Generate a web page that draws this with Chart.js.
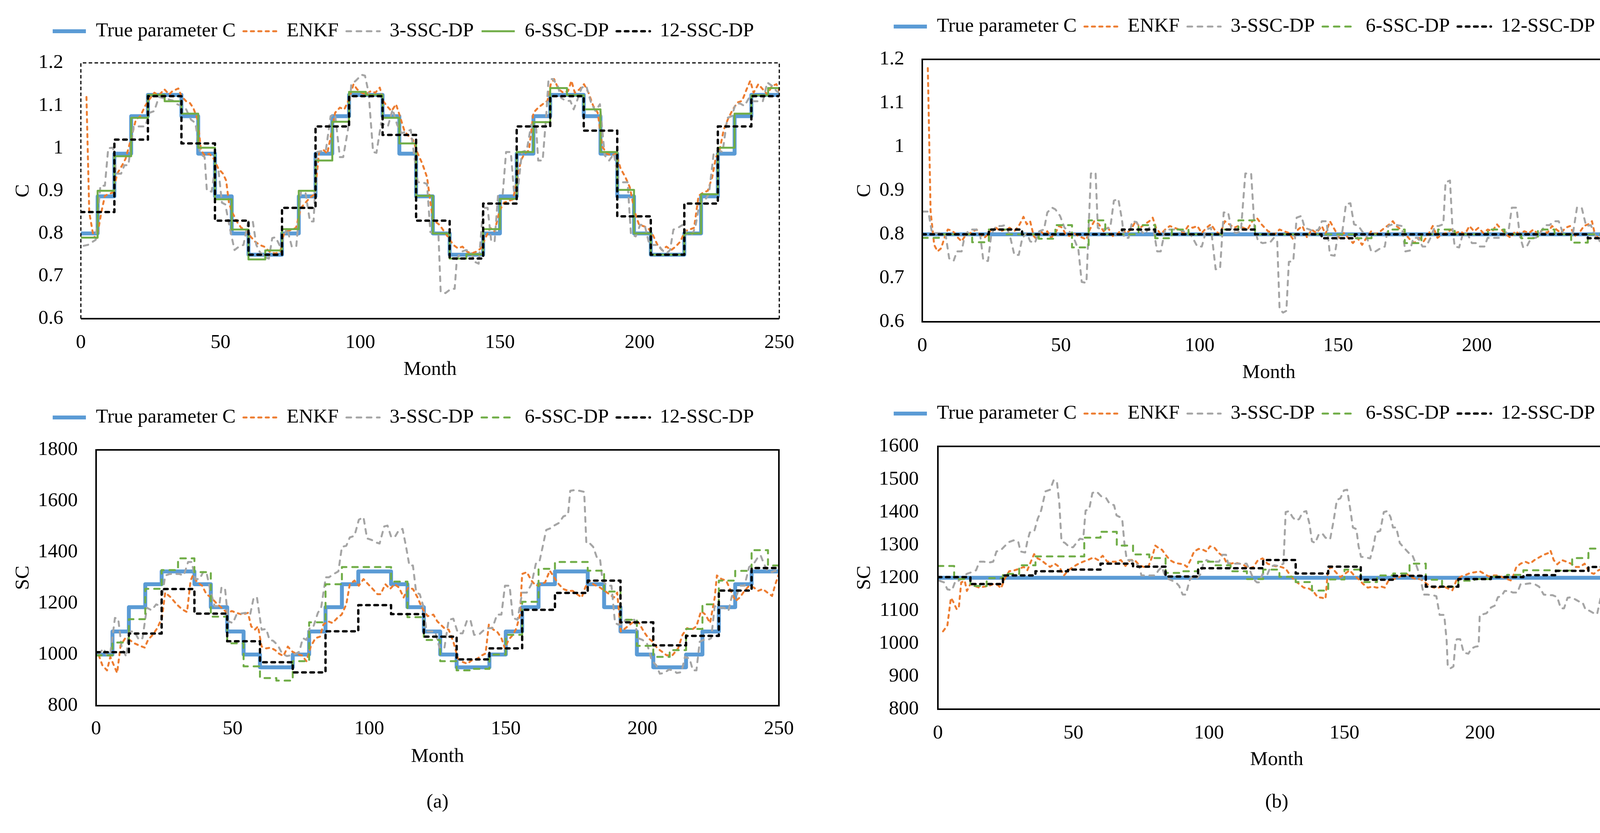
<!DOCTYPE html>
<html><head><meta charset="utf-8">
<script src="https://cdn.jsdelivr.net/npm/chart.js@4.4.1/dist/chart.umd.min.js"></script>
<style>
html,body{margin:0;padding:0;background:#fff;overflow:hidden;width:4205px;height:2133px;}
canvas{position:absolute;}
</style></head><body>
<canvas id="cTL"></canvas><canvas id="cTR"></canvas><canvas id="cBL"></canvas><canvas id="cBR"></canvas>
<script>
// ---------------- DATA ----------------
const seriesNames = ['True parameter C','ENKF','3-SSC-DP','6-SSC-DP','12-SSC-DP'];

// (a) top: parameter C, 6-month blocks for true & 6-SSC, 12-month blocks for 12-SSC
const trueC_a = [0.8,0.887,0.987,1.075,1.125,1.125,1.075,0.987,0.887,0.8,0.75,0.75,
  0.8,0.887,0.987,1.075,1.125,1.125,1.075,0.987,0.887,0.8,0.75,0.75,
  0.8,0.887,0.987,1.075,1.125,1.125,1.075,0.987,0.887,0.8,0.75,0.75,
  0.8,0.887,0.987,1.075,1.125,1.125];
const sixC_a = [0.79,0.9,0.981,1.071,1.125,1.11,1.081,1.001,0.88,0.809,0.739,0.76,
  0.81,0.9,0.971,1.062,1.132,1.125,1.071,1.011,0.888,0.8,0.741,0.751,
  0.81,0.881,0.991,1.061,1.141,1.124,1.091,0.991,0.902,0.8,0.75,0.75,
  0.8,0.892,1.001,1.081,1.124,1.141];
const twelveC_a = [0.85,1.02,1.122,1.011,0.83,0.75,0.86,1.051,1.122,1.031,0.83,0.741,0.87,1.051,1.122,1.041,0.84,0.75,0.87,1.051,1.122];
const enkfC_a = [[2,1.12],[3,0.85],[4.5,0.793],[5.7,0.789],[7.4,0.852],[8.6,0.888],[9.8,0.892],[11.5,0.896],[13,0.94],[14.8,0.96],[16,0.975],[18,1.023],[19.7,1.067],[21.3,1.075],[23,1.099],[24.6,1.115],[26.3,1.13],[27.9,1.124],[29.9,1.138],[31.6,1.126],[32.8,1.134],[34.9,1.14],[36,1.122],[37.7,1.11],[39,1.106],[40.2,1.095],[41.8,1.067],[43,0.995],[44.3,0.983],[46,0.987],[47.6,0.975],[49.2,0.952],[50.9,0.94],[52,0.924],[53,0.872],[54,0.852],[55.8,0.828],[57.4,0.813],[59,0.809],[60.7,0.793],[62.3,0.781],[64,0.773],[65.6,0.769],[66.9,0.761],[68,0.755],[69.7,0.753],[71.4,0.757],[72.6,0.797],[73.8,0.805],[75.5,0.809],[77,0.813],[78.8,0.86],[80.4,0.872],[82,0.884],[83.7,0.892],[85.3,0.991],[87,0.995],[88.2,0.987],[89.8,1.039],[91,1.083],[92.7,1.095],[94.3,1.091],[96,1.115],[97.6,1.15],[98.9,1.138],[100.5,1.13],[102,1.126],[103.8,1.134],[105.4,1.13],[107,1.142],[108.3,1.11],[109.5,1.099],[111.2,1.087],[112.8,1.103],[114,1.079],[115.7,1.043],[116.9,1.031],[118.9,1.019],[120.6,0.987],[122.2,0.964],[123.9,0.932],[126,0.832],[128.4,0.82],[130,0.805],[131.7,0.789],[133.3,0.773],[135,0.765],[136.6,0.769],[138.3,0.757],[139.9,0.753],[141.5,0.757],[143.2,0.765],[144.8,0.789],[146.5,0.813],[148.1,0.805],[149.8,0.852],[151.4,0.872],[153,0.876],[154.7,0.88],[156.3,0.932],[157.5,0.971],[158.8,0.987],[160.4,0.995],[162,1.083],[163.7,1.095],[165.3,1.103],[167,1.111],[168.2,1.15],[169.4,1.162],[171,1.138],[172.7,1.13],[174.4,1.134],[175.6,1.158],[176.8,1.13],[178.5,1.138],[180.1,1.15],[181.7,1.13],[183.4,1.099],[185,1.083],[186.7,1.003],[188.3,0.987],[190,0.983],[191.6,0.987],[193.2,0.952],[194.9,0.932],[196.5,0.908],[198.2,0.852],[199.8,0.82],[201.4,0.817],[203,0.813],[204.7,0.797],[206.4,0.773],[208,0.761],[209.6,0.769],[211.3,0.761],[212.9,0.769],[214.6,0.781],[216.2,0.805],[217.8,0.809],[219.5,0.813],[221.1,0.888],[222.8,0.896],[224.4,0.9],[226,0.932],[227.3,0.979],[228.5,0.991],[230.1,1.043],[231.8,1.071],[233.4,1.091],[235,1.107],[236.7,1.111],[238.3,1.138],[239.6,1.158],[240.8,1.13],[242.5,1.15],[244.1,1.138],[245.7,1.126],[247.4,1.146],[249,1.15],[250,1.134]];
const threeC_a = [[1,0.771],[2.5,0.773],[5.3,0.785],[7,0.912],[8.6,0.912],[9.8,1.0],[11.5,1.001],[12.7,0.94],[14.4,0.94],[15.6,0.96],[17,0.96],[18.9,1.051],[23,1.051],[24.6,1.083],[26.3,1.087],[27.9,1.12],[32.8,1.112],[34.5,1.103],[36,1.099],[37.7,1.091],[39.4,1.067],[41,1.059],[42.7,0.987],[44.3,0.979],[45.1,0.9],[46.8,0.898],[48,0.952],[49.2,0.952],[50.5,0.872],[51.7,0.868],[53.3,0.813],[55,0.761],[56.6,0.769],[58.2,0.773],[59.9,0.828],[61.5,0.83],[62.8,0.773],[64,0.757],[65.6,0.745],[67.3,0.741],[68.5,0.789],[69.7,0.791],[71.4,0.769],[73.8,0.813],[75.5,0.769],[77.1,0.769],[78.8,0.9],[80.4,0.896],[82,0.828],[83.3,0.828],[84.5,0.991],[86.1,0.993],[87.7,0.995],[89.4,1.075],[91,1.079],[92.7,0.979],[93.9,0.979],[95.6,1.043],[96.8,1.15],[98.4,1.158],[100.5,1.172],[101.7,1.17],[103,1.13],[104.6,0.991],[105.8,0.989],[107.5,1.059],[108.7,1.055],[109.9,1.051],[111.6,1.091],[113.2,1.055],[114.8,1.035],[116.5,1.039],[118.1,1.043],[119.4,0.979],[120.6,0.92],[122.2,0.92],[123.9,0.916],[125.1,0.803],[126.8,0.8],[128,0.797],[128.8,0.662],[130.5,0.66],[132.5,0.67],[133.8,0.67],[134.6,0.741],[136.2,0.757],[137.9,0.761],[139.5,0.757],[141.1,0.733],[142.4,0.729],[144,0.86],[145.6,0.86],[146.9,0.781],[148.1,0.781],[149.3,0.888],[151,0.892],[152.2,0.991],[153.9,0.991],[155.1,0.892],[156.3,0.896],[157.9,0.991],[159.6,0.995],[161.2,1.055],[162.9,1.055],[163.7,0.971],[165.3,0.971],[166.6,1.079],[167.4,1.162],[169,1.162],[170.7,1.146],[171.9,1.118],[173.5,1.111],[175.2,1.111],[176.4,1.091],[177.6,1.111],[179.3,1.142],[180.9,1.146],[182.6,1.107],[184.2,1.087],[185.8,1.103],[187.5,0.983],[189.1,0.971],[190.8,0.987],[192.4,0.924],[194,0.92],[195.7,0.92],[196.9,0.797],[198.6,0.793],[200.2,0.82],[201.8,0.82],[203.5,0.773],[205.1,0.773],[206.8,0.773],[208,0.761],[209.6,0.753],[210.9,0.761],[212.1,0.809],[213.7,0.813],[215.4,0.82],[217,0.797],[218.7,0.797],[219.9,0.813],[221.5,0.872],[223.2,0.876],[224.8,0.892],[226.5,0.987],[228.1,0.995],[229.7,0.991],[231.4,1.071],[233,1.075],[234.3,1.103],[235.9,1.105],[237.5,1.099],[239.2,1.118],[240.8,1.11],[242.5,1.11],[244.1,1.11],[245.7,1.154],[247.4,1.146],[249,1.134],[250,1.13]];

// (b) top: parameter C constant
const trueC_b = [0.8];
const sixC_b = [0.792,0.8,0.8,0.782,0.811,0.8,0.8,0.79,0.821,0.77,0.832,0.8,
  0.8,0.821,0.791,0.811,0.8,0.8,0.811,0.832,0.8,0.8,0.8,0.8,
  0.8,0.8,0.791,0.8,0.811,0.78,0.8,0.811,0.8,0.8,0.811,0.8,
  0.791,0.811,0.8,0.781,0.8,0.8];
const twelveC_b = [0.8,0.8,0.811,0.8,0.8,0.8,0.811,0.8,0.8,0.811,0.8,0.8,0.791,0.8,0.8,0.8,0.8,0.8,0.8,0.8,0.791];
const enkfC_b = [[2,1.18],[3,0.853],[4.3,0.776],[5.5,0.761],[6.8,0.768],[8,0.792],[9.2,0.811],[10.5,0.809],[11.7,0.803],[12.9,0.792],[14.2,0.784],[15.4,0.796],[16.7,0.8],[18.3,0.807],[19.6,0.811],[20.8,0.8],[22.4,0.792],[23.7,0.8],[24.9,0.811],[26.6,0.815],[28.2,0.807],[29.9,0.811],[31.5,0.815],[33.2,0.807],[34.8,0.819],[36.5,0.84],[37.7,0.823],[38.9,0.83],[40.2,0.796],[41.4,0.788],[42.7,0.807],[43.9,0.8],[45.1,0.807],[46.4,0.792],[48,0.803],[49.3,0.819],[50.5,0.815],[51.7,0.8],[53,0.796],[54.6,0.803],[56.3,0.796],[57.9,0.792],[59.2,0.788],[60.4,0.811],[62,0.83],[63.7,0.823],[65.4,0.807],[67,0.815],[68.7,0.796],[70.3,0.8],[71.9,0.811],[73.6,0.803],[75.3,0.811],[76.9,0.83],[78.6,0.815],[80.2,0.823],[81.9,0.83],[83.1,0.838],[84.3,0.815],[86,0.8],[87.6,0.811],[89.3,0.819],[90.9,0.815],[92.6,0.811],[94.2,0.803],[95.9,0.819],[97.5,0.815],[99.2,0.819],[100.8,0.803],[102.5,0.815],[104.1,0.823],[105.8,0.807],[107.4,0.8],[109.1,0.83],[110.7,0.823],[112.4,0.815],[114,0.819],[115.7,0.815],[117.3,0.811],[119,0.83],[120.6,0.838],[122.3,0.823],[124.7,0.807],[127.2,0.8],[128.8,0.811],[130.5,0.807],[132.2,0.803],[133.8,0.788],[135.5,0.811],[137.1,0.819],[138.8,0.792],[140.4,0.811],[142.1,0.803],[144.1,0.819],[145.4,0.8],[147,0.83],[148.7,0.811],[150.3,0.792],[152,0.803],[153.6,0.792],[155.3,0.78],[156.9,0.792],[158.6,0.776],[160.2,0.792],[161.9,0.807],[163.5,0.8],[165.2,0.807],[166.8,0.815],[168.5,0.823],[169.7,0.83],[170.9,0.819],[172.6,0.811],[174.2,0.8],[175.9,0.788],[177.5,0.78],[179.2,0.792],[180.8,0.784],[182.5,0.8],[184.1,0.819],[185.8,0.792],[187.4,0.8],[189.1,0.803],[190.7,0.811],[192.4,0.803],[194,0.807],[195.7,0.8],[197.3,0.819],[199,0.807],[200.6,0.815],[202.3,0.803],[203.9,0.811],[205.6,0.807],[207.2,0.823],[208.9,0.811],[210.5,0.8],[212.2,0.792],[213.8,0.807],[215.5,0.8],[217.1,0.807],[218.8,0.803],[220.4,0.811],[222.1,0.8],[223.7,0.811],[225.4,0.803],[227.1,0.819],[228.7,0.811],[230.3,0.803],[232,0.815],[233.6,0.819],[235.3,0.796],[236.9,0.803],[238.6,0.819],[240.2,0.823],[241.5,0.83],[242.7,0.796],[244.4,0.792],[246,0.819],[247.7,0.8],[249.3,0.807]];
const threeC_b = [[0.2,0.852],[2.2,0.852],[3.5,0.803],[6.8,0.803],[8.4,0.8],[9.7,0.745],[11.3,0.739],[12.5,0.761],[14.2,0.761],[15.4,0.8],[17.5,0.811],[19.6,0.811],[20.8,0.803],[22,0.741],[23.7,0.739],[24.9,0.8],[26.6,0.819],[28.6,0.819],[29.9,0.821],[31.5,0.8],[33.2,0.753],[34.8,0.753],[36.1,0.792],[37.7,0.803],[38.9,0.784],[40.6,0.78],[42.2,0.807],[43.9,0.811],[45.1,0.85],[46.8,0.861],[48,0.857],[49.7,0.842],[51.3,0.815],[53,0.807],[54.6,0.792],[56.3,0.765],[57.5,0.691],[59.2,0.689],[60,0.815],[60.8,0.939],[62.5,0.941],[63.3,0.815],[64.5,0.811],[67.8,0.815],[69.1,0.877],[70.7,0.881],[72,0.834],[72.8,0.792],[74.4,0.792],[75.7,0.83],[77.3,0.828],[79,0.807],[80.2,0.8],[81.9,0.815],[83.5,0.807],[84.7,0.761],[86,0.761],[87.6,0.811],[92.6,0.811],[94.2,0.807],[95.9,0.807],[97.5,0.792],[99.2,0.772],[100.8,0.772],[102.5,0.811],[104.1,0.815],[105.8,0.72],[107.4,0.722],[108.7,0.85],[110.3,0.85],[111.6,0.807],[113.2,0.803],[114.9,0.807],[116.5,0.939],[118.6,0.939],[119.8,0.815],[121.1,0.784],[122.7,0.78],[125.5,0.782],[126.8,0.792],[128,0.784],[128.85,0.629],[130.1,0.621],[131.3,0.625],[132.2,0.737],[133.8,0.739],[135,0.838],[136.7,0.842],[137.9,0.815],[139.6,0.811],[141.2,0.807],[142.9,0.811],[144.1,0.83],[145.8,0.83],[147,0.753],[148.7,0.751],[149.9,0.8],[151.5,0.807],[152.8,0.869],[154.4,0.871],[155.7,0.823],[157.3,0.819],[158.6,0.807],[160.2,0.796],[161.9,0.761],[163.5,0.761],[165.2,0.768],[166.8,0.772],[168,0.819],[169.7,0.823],[171.3,0.821],[172.9,0.819],[174.2,0.761],[175.9,0.763],[177.1,0.792],[178.8,0.792],[180.4,0.772],[181.7,0.772],[183.3,0.792],[184.9,0.819],[186.2,0.819],[187.9,0.823],[188.7,0.919],[190.3,0.923],[191.2,0.815],[192,0.772],[193.6,0.77],[194.9,0.8],[196.5,0.803],[198.2,0.78],[199.8,0.78],[201.1,0.772],[202.7,0.772],[203.9,0.792],[208.9,0.792],[210.1,0.803],[211.4,0.807],[212.6,0.861],[214.3,0.861],[215.5,0.796],[216.7,0.77],[218,0.772],[219.6,0.792],[221.3,0.792],[222.9,0.803],[224.6,0.821],[226.2,0.821],[227.9,0.83],[229.5,0.83],[231.2,0.8],[232.8,0.8],[234.5,0.796],[236.1,0.861],[237.8,0.861],[239.4,0.819],[241.1,0.821],[242.7,0.796],[244.4,0.784],[246,0.78],[247.3,0.78],[248.5,0.83],[250,0.834]];

// (a) bottom: SC
const trueSC_a = [1000,1090,1185,1275,1325,1325,1275,1185,1090,1000,950,950,
  1000,1090,1185,1275,1325,1325,1275,1185,1090,1000,950,950,
  1000,1090,1185,1275,1325,1325,1275,1185,1090,1000,950,950,
  1000,1090,1185,1275,1325,1325];
const sixSC_a = [997,1047,1138,1257,1330,1376,1322,1148,1044,954,908,898,
  974,1126,1275,1342,1342,1342,1285,1146,1057,974,938,944,
  1000,1077,1206,1335,1362,1362,1328,1246,1136,1034,991,1017,
  1100,1196,1289,1327,1408,1348];
const twelveSC_a = [1009,1082,1256,1160,1052,970,930,1091,1193,1158,1070,981,1024,1175,1241,1289,1126,1036,1073,1250,1338];
const enkfSC_a = [[1,997],[2.3,958],[4,938],[5.2,991],[6.5,958],[7.7,928],[9,1037],[10.7,1064],[12.3,1057],[14,1044],[16.1,1034],[17.8,1027],[19,1057],[20.7,1077],[22.4,1103],[24.1,1143],[25.3,1242],[27.4,1223],[29.5,1196],[31.6,1176],[33.3,1166],[34.6,1289],[35.4,1309],[37.1,1282],[38.8,1269],[40.4,1236],[42.1,1223],[44.2,1199],[45.9,1183],[48,1163],[49.7,1170],[51.4,1163],[53.5,1156],[55.6,1163],[56.8,1110],[58.1,1097],[59.3,1110],[60.6,1031],[62.3,1024],[63.9,1027],[65.6,1017],[66.9,1004],[68.6,994],[70.2,1031],[71.9,1011],[73.6,1001],[75.3,997],[77,974],[78.6,1031],[80.3,1064],[82,1070],[83.2,1117],[84.9,1130],[86.6,1123],[88.3,1143],[89.9,1156],[91.6,1196],[92.9,1275],[94.6,1289],[96.2,1269],[97.9,1295],[99.6,1275],[101.3,1256],[103,1236],[104.2,1236],[105.9,1275],[107.6,1256],[109.3,1275],[110.9,1262],[112.6,1223],[114.3,1262],[116,1256],[117.7,1223],[119.3,1183],[121.4,1150],[123.5,1156],[124.9,1130],[127.5,1103],[129.1,1097],[130.8,1050],[132.5,984],[134.2,971],[135.9,964],[137.5,977],[139.6,984],[141.3,997],[142.6,1004],[143.8,1117],[145.5,1097],[146.8,1090],[148.4,1064],[149.7,1024],[151,1057],[152.6,1077],[153.9,1103],[155.2,1156],[156,1315],[157.7,1322],[159.4,1289],[161,1269],[162.7,1275],[164.4,1282],[166.1,1328],[167.7,1302],[169.4,1275],[171.1,1256],[172.8,1249],[174.5,1249],[176.1,1236],[177.8,1223],[179.1,1262],[180.3,1289],[182,1275],[184.5,1262],[186.2,1249],[187.9,1236],[189.6,1223],[190.8,1242],[192.1,1090],[193.8,1103],[195.4,1117],[197.1,1130],[198.8,1123],[200.5,1090],[202.2,1064],[203.8,1050],[205.5,1024],[207.2,1011],[208.9,997],[211,997],[213.1,1024],[214.7,1077],[216.4,1103],[218.1,1097],[219.8,1110],[221.5,1170],[223.1,1156],[224.8,1123],[226.5,1223],[227.3,1309],[229,1295],[230.7,1289],[232.4,1249],[234.1,1209],[235.7,1223],[237.4,1249],[239.1,1269],[240.8,1262],[242.4,1249],[244.1,1256],[245.8,1242],[247.5,1229],[248.7,1275],[250,1315]];
const threeSC_a = [[1,1001],[2.7,1024],[4,997],[5.2,1004],[6.9,1143],[8.1,1140],[9.4,1024],[11.1,991],[11.9,1090],[14,1090],[15.7,1057],[17,1064],[18.6,1183],[20.3,1173],[22,1196],[23.7,1189],[25.3,1309],[27,1315],[30.4,1315],[32.1,1309],[33.7,1362],[35,1362],[36.3,1295],[37.9,1295],[39.2,1322],[40.4,1322],[41.7,1256],[43.4,1189],[45.1,1189],[45.9,1262],[47.2,1259],[48.4,1130],[50.1,1123],[51.4,1156],[53,1160],[54.7,1163],[56.4,1156],[57.7,1223],[58.9,1223],[60.6,1097],[62.3,1100],[63.5,1057],[64.8,1054],[66.5,1037],[68.1,1004],[69.8,994],[71.5,997],[73.2,1004],[74.4,1011],[75.7,1064],[77,1057],[78.2,1103],[79.5,1107],[81.2,1163],[82.4,1183],[84.1,1302],[85.3,1302],[87,1315],[88.7,1325],[90,1421],[91.6,1425],[92.9,1458],[94.6,1464],[96.2,1527],[97.9,1537],[99.2,1454],[100.9,1448],[102.5,1438],[103.8,1434],[105.5,1501],[106.7,1504],[108,1461],[109.3,1458],[110.9,1487],[112.2,1491],[113.5,1421],[114.7,1348],[116,1348],[117.2,1242],[118.5,1236],[119.8,1189],[121,1090],[124.1,1090],[125.8,1024],[127.5,1024],[129.1,1136],[130.8,1140],[132.5,1083],[134.2,1083],[135.9,1136],[137.1,1133],[138.4,1077],[140.1,1077],[141.7,1093],[143.4,1103],[145.1,1103],[146.8,1156],[148.4,1156],[149.7,1269],[151.4,1269],[152.6,1143],[154.3,1136],[156,1242],[157.7,1242],[159.4,1275],[161,1355],[162.3,1362],[163.5,1421],[164.8,1487],[166.5,1494],[167.7,1504],[169.4,1514],[171.1,1540],[172.8,1547],[173.6,1640],[175.3,1643],[177,1640],[178.7,1636],[179.5,1434],[180.8,1434],[182,1421],[183.3,1381],[184.5,1375],[185.4,1289],[187.1,1269],[188.7,1269],[190,1123],[191.2,1117],[192.9,1117],[193.8,1136],[197.1,1136],[198.4,1064],[200.1,1057],[201.7,1044],[203.4,977],[205.1,958],[206.4,925],[208,928],[209.7,941],[211.4,938],[212.6,928],[214.3,931],[215.6,991],[217.3,984],[218.5,938],[219.8,938],[221,1050],[222.3,1057],[224,1057],[225.2,1064],[226.5,1189],[228.2,1183],[229.9,1183],[231.5,1170],[232.8,1229],[234.5,1229],[235.7,1269],[237.4,1269],[239.1,1342],[240.8,1355],[242,1375],[243.3,1388],[244.5,1355],[245.8,1328],[247.5,1322],[248.7,1328],[250,1315]];

// (b) bottom: SC
const trueSC_b = [1200];
const sixSC_b = [1236,1196,1175,1199,1212,1238,1265,1265,1265,1322,1340,1298,
  1271,1260,1215,1220,1249,1238,1220,1196,1225,1203,1187,1161,
  1195,1225,1187,1207,1213,1243,1194,1173,1191,1196,1204,1209,
  1223,1223,1222,1260,1289,1322];
const twelveSC_b = [1202,1181,1207,1220,1225,1243,1234,1204,1229,1229,1254,1213,1234,1194,1206,1173,1196,1202,1208,1221,1233];
const enkfSC_b = [[1.9,1037],[3.5,1055],[4.8,1139],[5.6,1128],[6.9,1105],[7.7,1107],[8.6,1186],[9.9,1191],[10.7,1160],[12,1181],[13.6,1175],[15.3,1170],[17,1173],[18.7,1175],[20.4,1181],[22.1,1178],[23.3,1168],[24.6,1196],[26.3,1220],[28.4,1223],[30.1,1228],[31.7,1233],[33,1223],[34.3,1249],[35.5,1272],[36.8,1259],[38.1,1254],[39.7,1243],[41.4,1233],[43.1,1243],[44.8,1233],[46.5,1207],[48.2,1223],[49.9,1233],[51.5,1241],[53.6,1249],[55.8,1256],[57.4,1262],[59.1,1254],[60.8,1267],[62.5,1249],[64.2,1249],[65.9,1249],[67.5,1254],[69.2,1236],[70.9,1254],[72.6,1254],[74.3,1238],[76,1233],[77.6,1233],[79.3,1270],[80.2,1298],[81.4,1291],[82.7,1285],[84,1270],[85.6,1254],[87.3,1246],[89,1243],[90.7,1241],[91.9,1233],[93.2,1254],[94.5,1280],[96.2,1288],[97.9,1285],[99.1,1280],[100.4,1296],[102.1,1291],[103.7,1275],[105.4,1264],[106.3,1249],[108,1243],[109.7,1246],[111.3,1243],[113,1238],[114.7,1228],[116.4,1233],[118.1,1254],[119.8,1259],[121.6,1243],[124.1,1236],[126.6,1233],[128.3,1228],[130,1207],[131.7,1191],[133.3,1181],[135,1170],[136.7,1168],[138.4,1160],[140.1,1141],[141.8,1139],[143,1136],[143.9,1223],[145.1,1233],[146.8,1217],[148.5,1202],[150.2,1212],[151.9,1223],[153.6,1207],[155.2,1196],[156.9,1181],[158.6,1170],[160.3,1173],[162,1170],[163.7,1173],[164.9,1170],[166.2,1191],[167.9,1196],[169.6,1199],[171.2,1207],[172.9,1212],[174.6,1202],[176.3,1196],[178,1196],[179.7,1186],[181.4,1175],[183,1170],[184.7,1170],[186.4,1175],[188.1,1168],[189.8,1162],[191.5,1196],[193.1,1204],[194.8,1209],[196.5,1215],[198.2,1217],[199.9,1220],[201.6,1212],[203.2,1204],[204.9,1207],[206.6,1207],[208.3,1202],[210,1196],[211.7,1191],[212.5,1212],[213.4,1233],[215,1243],[216.7,1249],[218.4,1243],[220.1,1254],[221.8,1262],[223.5,1270],[225.1,1275],[226,1283],[227.2,1254],[228.5,1241],[230.2,1254],[231.9,1249],[233.6,1243],[235.3,1233],[236.9,1233],[238.6,1243],[240.3,1217],[242,1212],[243.7,1223],[245.4,1228],[247,1223],[248.7,1223],[250,1217]];
const threeSC_b = [[0.6,1191],[2.3,1186],[3.5,1165],[5.2,1162],[6.5,1191],[7.7,1191],[9,1202],[10.7,1212],[12.4,1217],[14.1,1223],[15.3,1249],[17,1249],[18.7,1246],[20.4,1249],[21.6,1280],[23.3,1285],[24.6,1296],[26.3,1309],[27.9,1314],[29.6,1311],[30.5,1280],[32.2,1277],[33,1311],[33.9,1338],[35.5,1340],[36.8,1379],[38.1,1405],[39.7,1463],[41.4,1468],[42.7,1497],[43.9,1494],[44.8,1426],[45.6,1311],[46.9,1306],[48.6,1293],[49.9,1293],[51.1,1306],[52.4,1319],[53.6,1317],[54.5,1405],[55.8,1408],[57,1458],[58.3,1463],[59.1,1458],[60.4,1447],[62.1,1442],[63.3,1426],[65,1421],[65.9,1390],[67.1,1385],[68,1379],[68.8,1306],[69.7,1254],[70.9,1254],[72.6,1249],[74.3,1233],[75.1,1207],[80.2,1207],[81.4,1223],[82.7,1233],[83.5,1212],[85.2,1196],[86.5,1191],[87.8,1186],[89,1175],[90.3,1149],[91.5,1149],[92.8,1191],[93.6,1202],[95.3,1196],[97,1212],[97.9,1243],[99.1,1254],[100.4,1249],[103.7,1249],[105,1270],[106.3,1270],[107.1,1243],[113.9,1243],[115.1,1223],[116.4,1196],[117.7,1186],[118.5,1186],[119.8,1212],[121.4,1207],[122.7,1233],[124.1,1238],[125.8,1236],[127.5,1243],[128.3,1400],[129.6,1403],[130.8,1385],[132.1,1374],[133.3,1379],[134.6,1400],[135.9,1403],[137.1,1364],[138,1311],[139.2,1306],[140.5,1332],[141.8,1335],[143,1322],[144.7,1317],[146,1374],[147.2,1437],[148.5,1442],[149.8,1466],[151,1468],[152.3,1400],[153.1,1353],[154.4,1348],[155.2,1296],[156.1,1264],[157.8,1262],[159.5,1259],[160.7,1296],[161.6,1338],[163.2,1343],[164.5,1400],[165.8,1403],[167,1385],[167.9,1353],[169.1,1353],[170.4,1306],[172.1,1290],[173.8,1275],[175,1270],[176.3,1243],[178,1202],[179.2,1149],[180.5,1149],[182.6,1147],[183.9,1144],[185.1,1087],[186.8,1087],[187.7,1008],[188.1,930],[189,924],[190.2,930],[191,1008],[191.5,1013],[192.7,1013],[194,972],[195.7,969],[196.9,985],[198.2,990],[199.5,992],[199.9,1087],[201.1,1089],[202.4,1092],[204.1,1110],[205.4,1115],[206.6,1141],[207.9,1144],[209.1,1160],[210.8,1160],[212.1,1155],[213.8,1155],[215,1181],[216.7,1181],[218.4,1183],[220.1,1181],[221.8,1173],[223.5,1149],[225.1,1147],[226.8,1147],[228.5,1141],[229.8,1107],[231,1107],[232.3,1139],[233.6,1141],[235.2,1134],[236.5,1128],[237.8,1126],[239,1102],[240.3,1100],[242,1092],[243.2,1089],[244.5,1139],[246.2,1144],[247.5,1107],[248.3,1097],[250,1100]];

// ---------------- RENDERING ----------------
const FONT = "'Liberation Serif', 'Times New Roman', serif";
const X_MAX = 250;
function blocks(vals, size){
  const pts = [];
  vals.forEach((v,i)=>{ const s=i*size, e=Math.min((i+1)*size, X_MAX); pts.push({x:s,y:v},{x:e,y:v}); });
  return pts;
}
function pairs(arr){ return arr.map(p=>({x:p[0], y:p[1]})); }

function makeDatasets(trueP, enkf, three, six, twelve, greenSolid){
  return [
    {label:seriesNames[0], data:trueP, borderColor:'#5B9BD5', borderWidth:10, borderCapStyle:'butt', order:5},
    {label:seriesNames[1], data:enkf, borderColor:'#ED7D31', borderWidth:5, borderDash:[8,11], borderCapStyle:'round', order:4},
    {label:seriesNames[2], data:three, borderColor:'#A5A5A5', borderWidth:5, borderDash:[12,14], borderCapStyle:'round', order:3},
    {label:seriesNames[3], data:six, borderColor:'#70AD47', borderWidth:5, borderDash:greenSolid?[]:[14,15], borderCapStyle:greenSolid?'butt':'round', order:2},
    {label:seriesNames[4], data:twelve, borderColor:'#000000', borderWidth:6, borderDash:[9,12], borderCapStyle:'round', order:1}
  ].map(d=>Object.assign({pointRadius:0, pointHoverRadius:0, fill:false, tension:0, borderJoinStyle:'round', backgroundColor:d.borderColor}, d));
}

const framePlugin = {
  id:'frame',
  afterDatasetsDraw(chart, args, o){
    const {left, top, right, bottom} = chart.chartArea;
    const ctx = chart.ctx;
    ctx.save();
    ctx.strokeStyle = '#000';
    ctx.lineCap = 'butt';
    if (o.dashed){
      ctx.lineWidth = 3; ctx.setLineDash([9,6]);
      ctx.beginPath(); ctx.moveTo(left,bottom); ctx.lineTo(left,top); ctx.lineTo(right,top); ctx.lineTo(right,bottom); ctx.stroke();
      ctx.setLineDash([]); ctx.lineWidth = 4;
      ctx.beginPath(); ctx.moveTo(left,bottom); ctx.lineTo(right,bottom); ctx.stroke();
    } else {
      ctx.lineWidth = 4; ctx.setLineDash([]);
      ctx.strokeRect(left, top, right-left, bottom-top);
    }
    ctx.restore();
  }
};

function makeChart(id, g, datasets, yCfg, xTitle, xTitleLH, dashedFrame){
  const cv = document.getElementById(id);
  cv.width = g.W; cv.height = g.H;
  cv.style.left = g.L+'px'; cv.style.top = g.T+'px';
  cv.style.width = g.W+'px'; cv.style.height = g.H+'px';
  return new Chart(cv, {
    type:'line',
    data:{datasets},
    plugins:[framePlugin],
    options:{
      responsive:false, animation:false, devicePixelRatio:1, events:[],
      layout:{padding:{left:g.pl, right:g.pr, top:g.ptop, bottom:0}},
      plugins:{
        tooltip:{enabled:false},
        frame:{dashed:dashedFrame},
        legend:{
          display:true, position:'top', align:'center',
          labels:{
            usePointStyle:true, pointStyleWidth:85, padding:20, color:'#000',
            font:{family:FONT, size:51},
            generateLabels(chart){
              return chart.data.datasets.map((d,i)=>({
                text:d.label, fillStyle:d.borderColor, strokeStyle:d.borderColor,
                lineWidth:d.borderWidth, lineDash:d.borderDash||[], lineCap:d.borderCapStyle||'butt',
                pointStyle:'line', hidden:false, datasetIndex:i, fontColor:'#000'
              }));
            }
          }
        }
      },
      scales:{
        x:{
          type:'linear', position:'bottom', min:0, max:X_MAX,
          ticks:{stepSize:50, padding:g.xtick, color:'#000', font:{family:FONT, size:51}, maxRotation:0, autoSkip:false},
          grid:{display:false, drawTicks:false}, border:{display:false},
          title:{display:true, text:xTitle, color:'#000', font:{family:FONT, size:51, lineHeight:xTitleLH}, padding:{top:0, bottom:0}},
          afterFit(s){ s.height = g.xH; }
        },
        xTop:{
          type:'linear', axis:'x', position:'top', display:true,
          ticks:{display:false}, grid:{display:false, drawTicks:false}, border:{display:false},
          afterFit(s){ s.height = g.hT; }
        },
        y:{
          type:'linear', position:'left', min:yCfg.min, max:yCfg.max,
          ticks:{stepSize:yCfg.step, padding:g.ytick, color:'#000', font:{family:FONT, size:51},
                 callback:v=>String(Math.round(v*1000)/1000)},
          grid:{display:false, drawTicks:false}, border:{display:false},
          title:{display:true, text:yCfg.title, color:'#000', font:{family:FONT, size:51, lineHeight:1.2}, padding:{top:g.ytp, bottom:0}},
          afterFit(s){ s.width = g.yW; }
        }
      }
    }
  });
}

const geoTL = {L:0, T:0, W:2080, H:977, pl:70, pr:85, ptop:34.5, yW:137, hT:45.5, xH:161, ytp:-40.6, ytick:45, xtick:31};
const geoTR = {L:2110, T:0, W:2095, H:985, pl:122, pr:66, ptop:22.5, yW:129, hT:48.5, xH:161, ytp:-48.6, ytick:46, xtick:31};
const geoBL = {L:0, T:1000, W:2080, H:1084, pl:71, pr:86, ptop:23.5, yW:175, hT:47.5, xH:277, ytp:-41.6, ytick:47, xtick:29};
const geoBR = {L:2110, T:1000, W:2095, H:1082, pl:118, pr:62, ptop:13.5, yW:173, hT:48.5, xH:266, ytp:-44.6, ytick:49, xtick:31};

makeChart('cTL', geoTL,
  makeDatasets(blocks(trueC_a,6), pairs(enkfC_a), pairs(threeC_a), blocks(sixC_a,6), blocks(twelveC_a,12), true),
  {min:0.6, max:1.2, step:0.1, title:'C'}, 'Month', 1.2, true);
makeChart('cTR', geoTR,
  makeDatasets(blocks(trueC_b,250), pairs(enkfC_b), pairs(threeC_b), blocks(sixC_b,6), blocks(twelveC_b,12), false),
  {min:0.6, max:1.2, step:0.1, title:'C'}, 'Month', 1.2, false);
makeChart('cBL', geoBL,
  makeDatasets(blocks(trueSC_a,6), pairs(enkfSC_a), pairs(threeSC_a), blocks(sixSC_a,6), blocks(twelveSC_a,12), false),
  {min:800, max:1800, step:200, title:'SC'}, ['Month','','(a)'], 1.147, false);
makeChart('cBR', geoBR,
  makeDatasets(blocks(trueSC_b,250), pairs(enkfSC_b), pairs(threeSC_b), blocks(sixSC_b,6), blocks(twelveSC_b,12), false),
  {min:800, max:1600, step:100, title:'SC'}, ['Month','','(b)'], 1.069, false);
</script>
</body></html>
